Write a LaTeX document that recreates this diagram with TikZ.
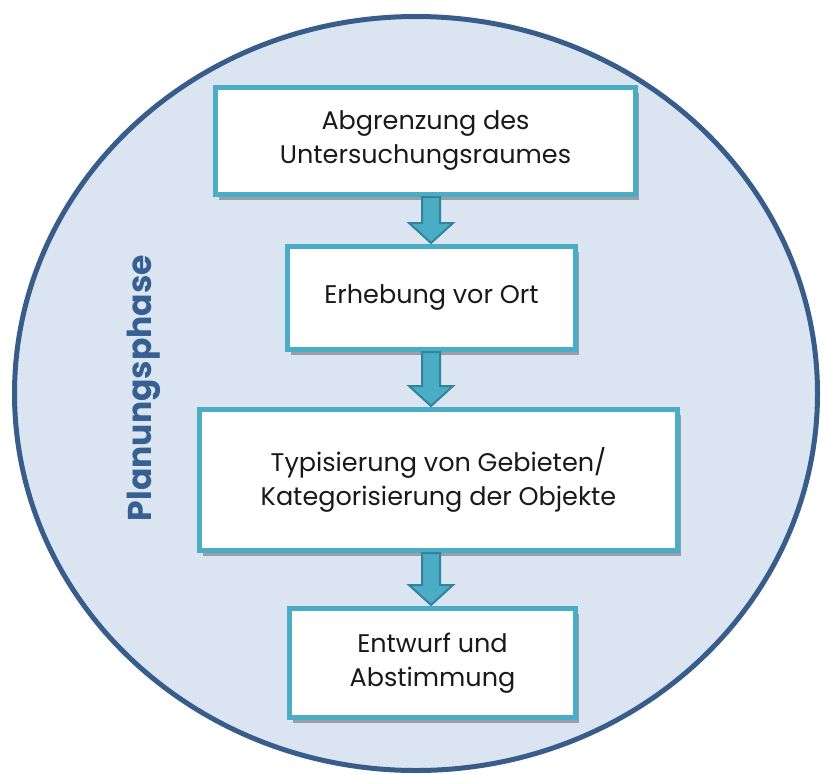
\documentclass[tikz,border=0pt]{standalone}
\usepackage{fontspec}
\setmainfont{Poppins}
\usepackage{tikz}
\usetikzlibrary{calc,shadows}
\definecolor{ringblue}{HTML}{385D8A}
\definecolor{ringfill}{HTML}{DBE5F1}
\definecolor{boxline}{HTML}{4BACC6}
\definecolor{arrowline}{HTML}{31849B}
\definecolor{phasetext}{HTML}{376092}
\tikzset{
    % phase ellipse
    phasering/.style={
           draw=ringblue,
           line width=5pt,
           fill=ringfill},
    % step boxes
    stepbox/.style={
           rectangle,
           draw=boxline,
           line width=5pt,
           fill=white,
           align=center,
           inner sep=0pt,
           font=\fontsize{25.5}{34}\selectfont,
           text=black!90,
           drop shadow={shadow xshift=3pt,shadow yshift=-5pt,fill=black,opacity=.3}},
    % block arrows between the boxes
    blockarrow/.style={
           draw=arrowline,
           line width=2pt,
           line join=miter,
           fill=boxline}
}
% block arrow from #1 down to #2 at the x of (axis)
\newcommand{\flowarrow}[2]{%
  \path let \p1=(axis |- #1.south), \p2=(axis |- #2.north) in
    [blockarrow] (\x1-9pt,\y1) -- (\x1+9pt,\y1) -- (\x1+9pt,\y2+21pt)
    -- (\x1+22pt,\y2+21pt) -- (\x1,\y2+1pt) -- (\x1-22pt,\y2+21pt)
    -- (\x1-9pt,\y2+21pt) -- cycle;}

\begin{document}
\begin{tikzpicture}[x=1pt,y=-1pt]
\useasboundingbox (0,0) rectangle (821,774);
 %ring and label
\draw[phasering] (416,393.5) ellipse [x radius=401.5pt, y radius=377pt];
\node[rotate=90, text=phasetext, font=\fontsize{33}{40}\selectfont\bfseries] (phase) at (144,388) {Planungsphase};
\coordinate (axis) at (431,0);
 %nodes
\node[stepbox, minimum width=420pt, minimum height=107pt] (grenze) at (425.5,141) {Abgrenzung des\\Untersuchungsraumes};
\node[stepbox, minimum width=288pt, minimum height=103pt] (erheb) at (431.5,298) {Erhebung vor Ort};
\node[stepbox, minimum width=478pt, minimum height=141pt] (typ) at (438.5,480) {Typisierung von Gebieten/\\Kategorisierung der Objekte};
\node[stepbox, minimum width=286pt, minimum height=109pt] (entwurf) at (432.5,663) {Entwurf und\\Abstimmung};
 %arrows
\flowarrow{grenze}{erheb}
\flowarrow{erheb}{typ}
\flowarrow{typ}{entwurf}
\end{tikzpicture}
\end{document}
